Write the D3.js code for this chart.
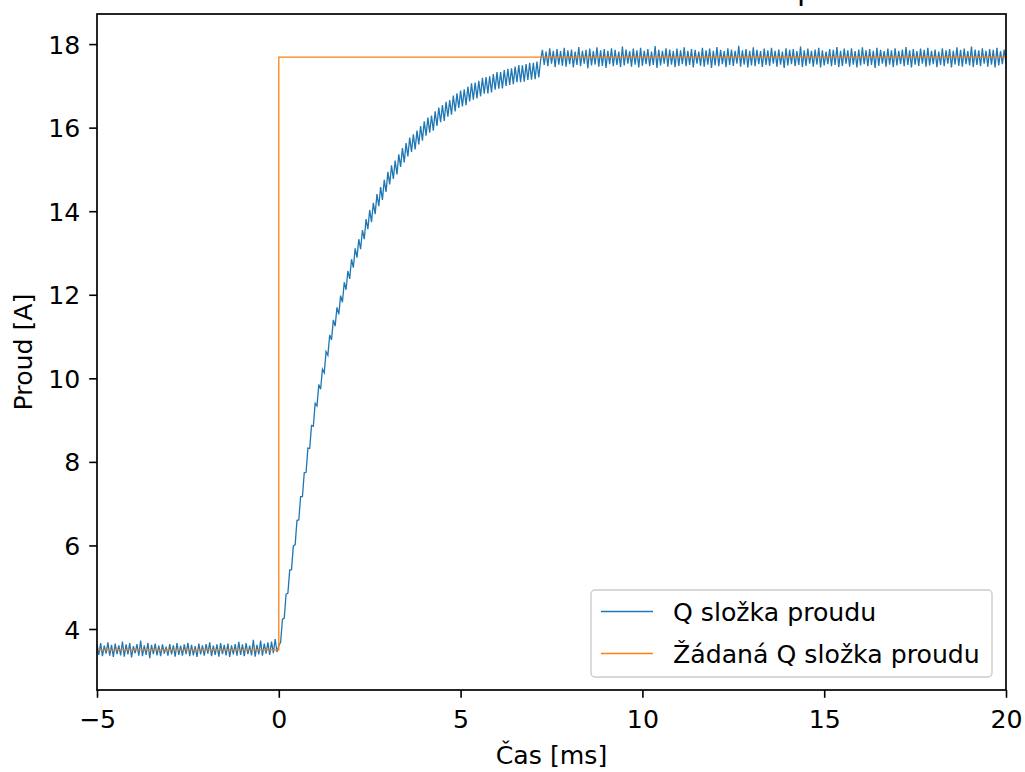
<!DOCTYPE html>
<html><head><meta charset="utf-8">
<script src="https://cdn.jsdelivr.net/npm/d3@7"></script>
<style>body{margin:0;background:#fff}svg{display:block}text{font-family:"DejaVu Sans",sans-serif;fill:#000}</style>
</head><body><svg id="c" width="1025" height="772"></svg>
<script>
// ---- data ----
const titleText = "Odezva na skokovou změnu žádaného proudu";
const xLabel = "Čas [ms]";
const yLabel = "Proud [A]";
const seriesNames = ["Q složka proudu", "Žádaná Q složka proudu"];
const xTicks = [-5, 0, 5, 10, 15, 20];
const yTicks = [4, 6, 8, 10, 12, 14, 16, 18];
const tStart = -5, dt = 0.05;
const qPre = [3.64,3.38,3.66,3.35,3.60,3.41,3.68,3.36,3.62,3.33,
3.65,3.40,3.61,3.37,3.70,3.34,3.63,3.39,3.66,3.32,
3.59,3.42,3.64,3.36,3.72,3.35,3.61,3.38,3.67,3.30,
3.62,3.40,3.65,3.37,3.60,3.35,3.63,3.41,3.58,3.36,
3.64,3.39,3.61,3.34,3.66,3.38,3.60,3.36,3.63,3.40,
3.67,3.35,3.62,3.37,3.59,3.33,3.65,3.39,3.61,3.36,
3.64,3.41,3.68,3.35,3.60,3.38,3.63,3.34,3.66,3.40,
3.62,3.37,3.65,3.33,3.61,3.39,3.64,3.36,3.69,3.38,
3.63,3.35,3.66,3.40,3.60,3.37,3.74,3.34,3.62,3.39,
3.72,3.36,3.65,3.41,3.68,3.38,3.70,3.42,3.76,3.45];
const qRise = [3.60,3.68,4.23,4.26,4.83,4.86,5.41,5.42,5.99,6.02,
6.60,6.61,7.17,7.17,7.74,7.75,8.33,8.32,8.87,8.85,
9.40,9.34,9.85,9.74,10.22,10.13,10.64,10.55,11.04,10.92,
11.40,11.25,11.70,11.53,11.98,11.82,12.30,12.12,12.57,12.38,
12.85,12.65,13.11,12.89,13.33,13.09,13.55,13.33,13.81,13.57,
14.03,13.74,14.20,13.93,14.41,14.12,14.58,14.27,14.75,14.46,
14.94,14.64,15.10,14.77,15.21,14.88,15.36,15.06,15.51,15.17,
15.63,15.31,15.76,15.42,15.84,15.48,15.93,15.60,16.04,15.69,
16.15,15.81,16.24,15.88,16.29,15.93,16.39,16.04,16.48,16.13,
16.54,16.16,16.62,16.26,16.66,16.31,16.77,16.39,16.82,16.47,
16.89,16.51,16.92,16.54,16.98,16.63,17.06,16.67,17.08,16.70,
17.12,16.75,17.19,16.81,17.21,16.82,17.23,16.84,17.28,16.91,
17.33,16.93,17.33,16.94,17.38,17.00,17.41,17.02,17.42,17.04,
17.46,17.09,17.50,17.09,17.49,17.10,17.52,17.14,17.55,17.15,
17.55,17.16,17.58,17.20,17.61];
const qSteady = [17.86,17.50,17.82,17.47,17.90,17.53,17.84,17.45,17.88,17.51,17.83,17.48,17.91,17.46,17.85,17.52,
17.87,17.44,17.82,17.50,17.93,17.47,17.84,17.53,17.86,17.42,17.89,17.49,17.83,17.51,17.92,17.46,
17.85,17.48,17.88,17.43,17.84,17.52,17.90,17.47,17.86,17.50,17.82,17.45,17.94,17.49,17.87,17.53,
17.83,17.46,17.89,17.51,17.85,17.44,17.91,17.48,17.84,17.52,17.88,17.47,17.82,17.50,17.95,17.43,
17.86,17.49,17.84,17.53,17.90,17.46,17.87,17.51,17.83,17.45,17.89,17.48,17.85,17.52,17.92,17.47,
17.84,17.50,17.88,17.44,17.86,17.53,17.82,17.48,17.91,17.46,17.85,17.51,17.89,17.43,17.84,17.49,
17.93,17.47,17.86,17.52,17.83,17.45,17.90,17.50,17.87,17.48,17.84,17.53,17.96,17.46,17.85,17.51,
17.88,17.44,17.84,17.49,17.92,17.47,17.86,17.52,17.83,17.45,17.89,17.50,17.85,17.48,17.91,17.53,
17.84,17.46,17.87,17.51,17.82,17.43,17.90,17.49,17.86,17.52,17.88,17.47,17.83,17.50,17.94,17.45,
17.85,17.48,17.89,17.53,17.84,17.46,17.87,17.51,17.91,17.44,17.85,17.49,17.82,17.52,17.88,17.47,
17.86,17.50,17.93,17.45,17.84,17.48,17.89,17.53,17.85,17.46,17.90,17.51,17.83,17.44,17.87,17.49,
17.92,17.52,17.85,17.47,17.88,17.50,17.84,17.43,17.91,17.48,17.86,17.53,17.83,17.46,17.89,17.51,
17.85,17.45,17.90,17.49,17.84,17.52,17.87,17.47,17.93,17.50,17.85,17.44,17.88,17.51,17.83,17.48,
17.89,17.53,17.86,17.46,17.91,17.49,17.84,17.52,17.87,17.45,17.82,17.50,17.90,17.47,17.85,17.53,
17.88,17.44,17.84,17.51,17.92,17.48,17.86,17.46,17.89,17.52,17.83,17.49,17.94,17.45,17.87,17.50,
17.85,17.47,17.90,17.53,17.84,17.46,17.88,17.51,17.86,17.44,17.91,17.49,17.83,17.52,17.87,17.55];
const refT = [-5, 0, 0, 20];
const refV = [3.5, 3.5, 17.69, 17.69];
const colors = ["#1f77b4", "#ff7f0e"];

// ---- layout ----
const L = 97, R = 1006, T = 14, B = 690;
const svg = d3.select("#c");
const x = d3.scaleLinear().domain([-5, 20]).range([L, R]);
const y = d3.scaleLinear().domain([2.54, 18.72]).range([B, T]);
const fs = 25.2;

const qVals = qPre.concat(qRise, qSteady);
const qData = qVals.map((v, i) => [tStart + i * dt, v]);
const refData = refT.map((t, i) => [t, refV[i]]);

svg.append("defs").append("clipPath").attr("id", "clip")
  .append("rect").attr("x", L).attr("y", T).attr("width", R - L).attr("height", B - T);

const line = d3.line().x(d => x(d[0])).y(d => y(d[1]));
const g = svg.append("g").attr("clip-path", "url(#clip)");
g.append("path").datum(qData).attr("d", line).attr("fill", "none")
  .attr("stroke", colors[0]).attr("stroke-width", 1.3);
g.append("path").datum(refData).attr("d", line).attr("fill", "none")
  .attr("stroke", colors[1]).attr("stroke-width", 1.3);

// axes
const xAxis = d3.axisBottom(x).tickValues(xTicks).tickSize(7.8)
  .tickFormat(d => d < 0 ? "\u2212" + Math.abs(d) : d);
const yAxis = d3.axisLeft(y).tickValues(yTicks).tickSize(7.8).tickPadding(9);
const gx = svg.append("g").attr("transform", `translate(0,${B})`).call(xAxis);
const gy = svg.append("g").attr("transform", `translate(${L},0)`).call(yAxis);
[gx, gy].forEach(a => {
  a.select(".domain").remove();
  a.selectAll(".tick line").attr("stroke", "#000").attr("stroke-width", 1.6);
  a.selectAll(".tick text").attr("font-size", fs).attr("font-family", "DejaVu Sans").attr("fill", "#000");
});
gx.selectAll(".tick text").attr("y", 38).attr("dy", 0);
gy.selectAll(".tick text").attr("dy", "0.36em");

svg.append("rect").attr("x", L).attr("y", T).attr("width", R - L).attr("height", B - T)
  .attr("fill", "none").attr("stroke", "#000").attr("stroke-width", 1.7);

// labels
svg.append("text").attr("x", (L + R) / 2).attr("y", 764).attr("text-anchor", "middle")
  .attr("font-size", fs).text(xLabel);
svg.append("text").attr("transform", `translate(32,${(T + B) / 2}) rotate(-90)`)
  .attr("text-anchor", "middle").attr("font-size", fs).text(yLabel);

// title (clipped at top of figure, as in the reference)
const title = svg.append("text").attr("y", -0.5).attr("font-size", 30).text(titleText);
const pIdx = titleText.indexOf("p");
const before = title.node().getSubStringLength(0, pIdx);
title.attr("x", 797 - before);

// legend
const lg = svg.append("g");
lg.append("rect").attr("x", 591).attr("y", 590).attr("width", 401).attr("height", 87)
  .attr("rx", 4).attr("fill", "#fff").attr("fill-opacity", 0.8)
  .attr("stroke", "#cccccc").attr("stroke-width", 1.4);
seriesNames.forEach((n, i) => {
  const yy = 611.5 + i * 42;
  lg.append("line").attr("x1", 601).attr("x2", 653).attr("y1", yy).attr("y2", yy)
    .attr("stroke", colors[i]).attr("stroke-width", 1.3);
  lg.append("text").attr("x", 673).attr("y", yy + 9).attr("font-size", fs).text(n);
});
</script></body></html>
